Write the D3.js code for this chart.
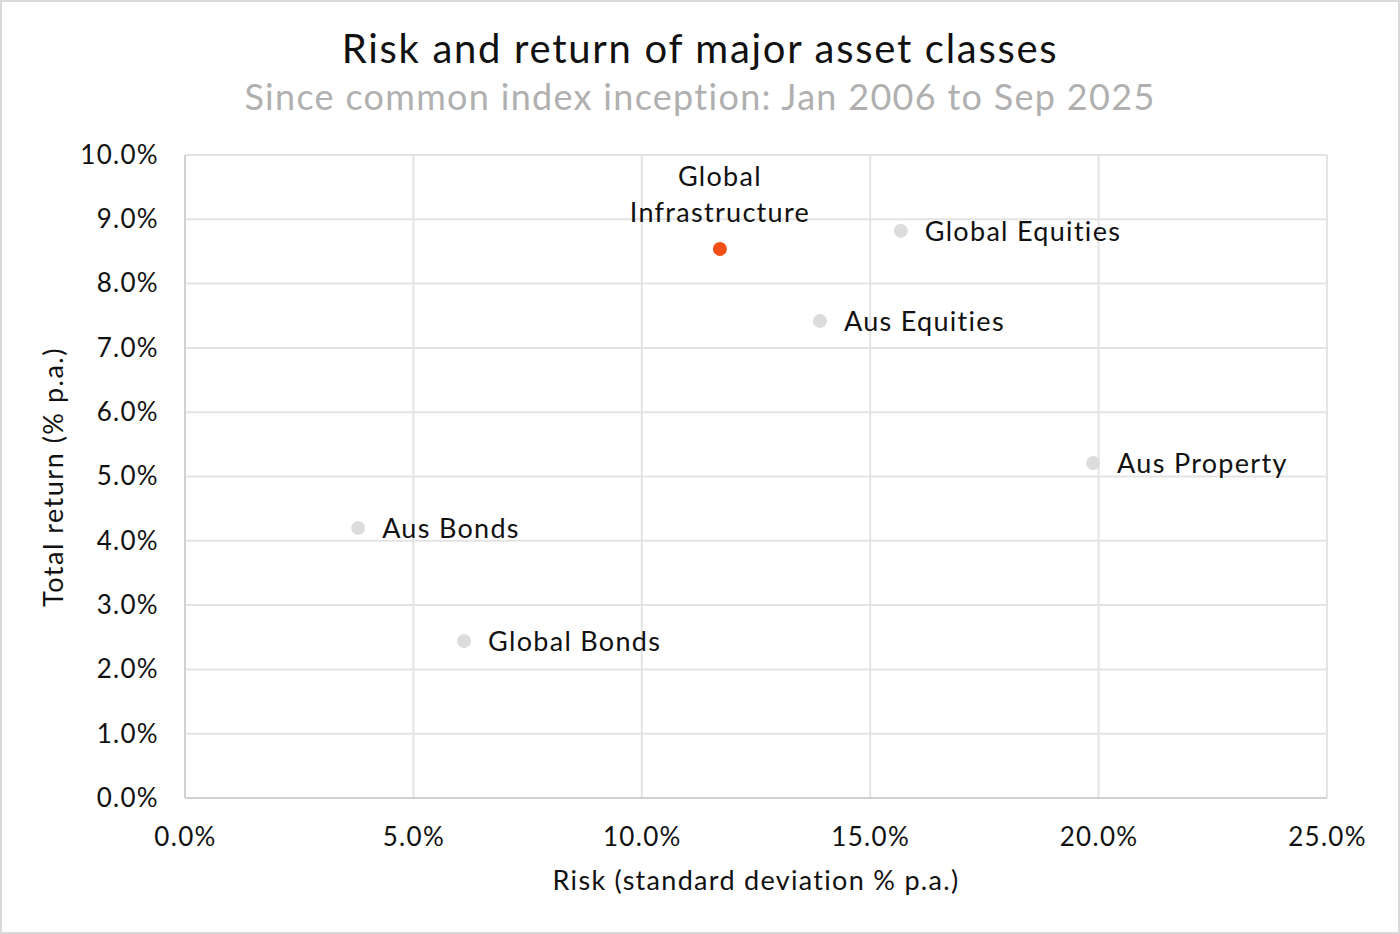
<!DOCTYPE html>
<html><head><meta charset="utf-8">
<script src="https://cdn.jsdelivr.net/npm/d3@7"></script>
<style>body{margin:0;background:#fff;}svg{display:block;font-family:Lato,"Noto Sans",sans-serif;letter-spacing:1.3px;}</style>
</head><body>
<svg id="c" width="1400" height="934"></svg>
<script>
const assets = ["Global Infrastructure","Global Equities","Aus Equities","Aus Property","Aus Bonds","Global Bonds"];
const risk = [11.71, 15.67, 13.90, 19.88, 3.79, 6.11];
const ret  = [8.54, 8.82, 7.42, 5.21, 4.20, 2.44];
const highlight = ["Global Infrastructure"];
const xTicks = [0,5,10,15,20,25];
const yTicks = [0,1,2,3,4,5,6,7,8,9,10];

const svg = d3.select("#c");
svg.append("rect").attr("x",1).attr("y",1).attr("width",1398).attr("height",932).attr("fill","#fff").attr("stroke","#d9d9d9").attr("stroke-width",2);

const m = {l:185, r:1327, t:155, b:798};
const x = d3.scaleLinear().domain([0,25]).range([m.l,m.r]);
const y = d3.scaleLinear().domain([0,10]).range([m.b,m.t]);

svg.append("text").attr("x",700).attr("y",63).attr("text-anchor","middle").attr("font-size",40).attr("letter-spacing","1.7px").attr("fill","#111").text("Risk and return of major asset classes");
svg.append("text").attr("x",700).attr("y",110).attr("text-anchor","middle").attr("font-size",36).attr("letter-spacing","1.3px").attr("fill","#b0b0b0").text("Since common index inception: Jan 2006 to Sep 2025");

// grid
const g = svg.append("g");
g.selectAll(".gy").data(yTicks).join("line").attr("x1",m.l).attr("x2",m.r).attr("y1",d=>y(d)).attr("y2",d=>y(d)).attr("stroke","#e3e3e3").attr("stroke-width",2);
g.selectAll(".gx").data(xTicks).join("line").attr("y1",m.t).attr("y2",m.b).attr("x1",d=>x(d)).attr("x2",d=>x(d)).attr("stroke","#e3e3e3").attr("stroke-width",2);
g.append("line").attr("x1",m.l).attr("x2",m.r).attr("y1",m.b).attr("y2",m.b).attr("stroke","#d0d0d0").attr("stroke-width",2);
g.append("line").attr("x1",m.l).attr("x2",m.l).attr("y1",m.t).attr("y2",m.b).attr("stroke","#d0d0d0").attr("stroke-width",2);

const xAxis = svg.append("g").attr("transform",`translate(0,${m.b+27})`)
  .call(d3.axisBottom(x).tickValues(xTicks).tickSize(0).tickFormat(d=>d.toFixed(1)+"%"));
xAxis.select(".domain").remove();
xAxis.selectAll("text").attr("font-size",26).attr("fill","#111").attr("font-family","Lato");
const yAxis = svg.append("g").attr("transform",`translate(${m.l-23},0)`)
  .call(d3.axisLeft(y).tickValues(yTicks).tickSize(0).tickFormat(d=>d.toFixed(1)+"%"));
yAxis.select(".domain").remove();
yAxis.selectAll("text").attr("font-size",26).attr("fill","#111").attr("font-family","Lato");

svg.append("text").attr("x",756).attr("y",890).attr("text-anchor","middle").attr("font-size",27).attr("fill","#111").text("Risk (standard deviation % p.a.)");
svg.append("text").attr("transform","translate(63,477) rotate(-90)").attr("text-anchor","middle").attr("font-size",27).attr("letter-spacing","1.5px").attr("fill","#111").text("Total return (% p.a.)");

const data = assets.map((a,i)=>({a, r:risk[i], v:ret[i]}));
svg.selectAll(".pt").data(data).join("circle")
  .attr("cx",d=>x(d.r)).attr("cy",d=>y(d.v)).attr("r",7)
  .attr("fill",d=>highlight.includes(d.a)?"#f24f17":"#dcdcdc");

data.forEach(d=>{
  if(highlight.includes(d.a)){
    const t = svg.append("text").attr("text-anchor","middle").attr("font-size",27).attr("fill","#111");
    const words = d.a.split(" ");
    t.append("tspan").attr("x",x(d.r)).attr("y",y(d.v)-63).text(words[0]);
    t.append("tspan").attr("x",x(d.r)).attr("y",y(d.v)-27).text(words[1]);
  } else {
    svg.append("text").attr("x",x(d.r)+24).attr("y",y(d.v)+10).attr("font-size",27).attr("fill","#111").text(d.a);
  }
});
</script>
</body></html>
